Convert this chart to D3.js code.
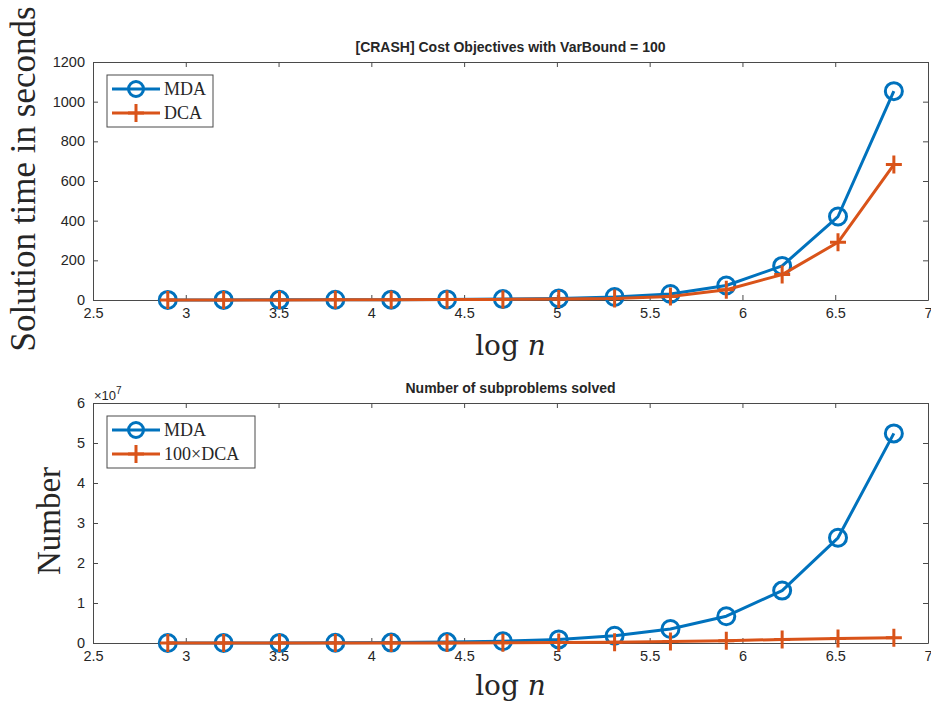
<!DOCTYPE html>
<html>
<head>
<meta charset="utf-8">
<script src="https://cdn.jsdelivr.net/npm/d3@7"></script>
<style>
  body { margin: 0; background: #fff; }
  svg text { fill: #262626; }
</style>
</head>
<body>
<svg id="fig" width="931" height="704"></svg>
<script>
// x = log10(n), n = 800 * 2^k
var logN = [2.903, 3.204, 3.505, 3.806, 4.107, 4.408, 4.709, 5.010, 5.311, 5.612, 5.913, 6.214, 6.515, 6.816];
// solution time (seconds)
var mdaTime = [0.3, 0.5, 0.8, 1.2, 1.8, 2.8, 4.5, 8, 15, 30, 73, 172, 421, 1053];
var dcaTime = [0.2, 0.3, 0.5, 0.8, 1.2, 2, 3, 5, 8, 18, 52, 128, 291, 683];
// number of subproblems solved
var mdaSub = [4e3, 1e4, 2e4, 5e4, 1e5, 2.2e5, 4.5e5, 9e5, 1.8e6, 3.5e6, 6.7e6, 1.31e7, 2.63e7, 5.24e7];
var dcaSub = [1e3, 2e3, 4e3, 8e3, 1.5e4, 3e4, 6e4, 1.1e5, 2e5, 3.5e5, 5.5e5, 9e5, 1.1e6, 1.3e6];

var xTicks = [2.5, 3, 3.5, 4, 4.5, 5, 5.5, 6, 6.5, 7];
var timeTicks = [0, 200, 400, 600, 800, 1000, 1200];
var subTicks = [0, 1e7, 2e7, 3e7, 4e7, 5e7, 6e7];

var blue = "#0072BD", orange = "#D95319";
var svg = d3.select("#fig");
var left = 93, right = 928;

function panel(opt) {
  var x = d3.scaleLinear().domain([2.5, 7]).range([left, right]);
  var y = d3.scaleLinear().domain(opt.ydom).range([opt.bottom, opt.top]);
  var g = svg.append("g");

  // ticks on all four sides, pointing inward
  var xa = d3.axisBottom(x).tickValues(xTicks).tickSizeInner(-5).tickSizeOuter(0)
    .tickPadding(8).tickFormat(d3.format("~g"));
  var xt = d3.axisTop(x).tickValues(xTicks).tickSizeInner(-5).tickSizeOuter(0).tickFormat("");
  var ya = d3.axisLeft(y).tickValues(opt.yticks).tickSizeInner(-5).tickSizeOuter(0)
    .tickPadding(8).tickFormat(opt.yfmt);
  var yr = d3.axisRight(y).tickValues(opt.yticks).tickSizeInner(-5).tickSizeOuter(0).tickFormat("");

  g.append("g").attr("transform", "translate(0," + opt.bottom + ")").call(xa);
  g.append("g").attr("transform", "translate(0," + opt.top + ")").call(xt);
  g.append("g").attr("transform", "translate(" + left + ",0)").call(ya);
  g.append("g").attr("transform", "translate(" + right + ",0)").call(yr);
  g.selectAll(".domain, .tick line").attr("stroke", "#4a4a4a").attr("stroke-width", 1);
  g.selectAll(".tick text").style("font-family", "Liberation Sans, Arial, sans-serif")
    .style("font-size", "14.5px").attr("fill", "#262626");

  var line = d3.line().x(function(d) { return x(d[0]); }).y(function(d) { return y(d[1]); });
  var s1 = logN.map(function(v, i) { return [v, opt.s1[i]]; });
  var s2 = logN.map(function(v, i) { return [v, opt.s2[i]]; });

  g.append("path").datum(s1).attr("d", line).attr("fill", "none")
    .attr("stroke", blue).attr("stroke-width", 3).attr("stroke-linejoin", "round");
  g.selectAll(".circ").data(s1).enter().append("circle")
    .attr("cx", function(d) { return x(d[0]); }).attr("cy", function(d) { return y(d[1]); })
    .attr("r", 8.5).attr("fill", "none").attr("stroke", blue).attr("stroke-width", 3);

  g.append("path").datum(s2).attr("d", line).attr("fill", "none")
    .attr("stroke", orange).attr("stroke-width", 3).attr("stroke-linejoin", "round");
  g.selectAll(".plus").data(s2).enter().append("path")
    .attr("d", function(d) {
      var cx = x(d[0]), cy = y(d[1]);
      return "M" + (cx - 8) + "," + cy + "H" + (cx + 8) + "M" + cx + "," + (cy - 9) + "V" + (cy + 9);
    })
    .attr("stroke", orange).attr("stroke-width", 3);

  // title
  g.append("text").attr("x", (left + right) / 2).attr("y", opt.top - 10)
    .attr("text-anchor", "middle").style("font-family", "Liberation Sans, Arial, sans-serif")
    .style("font-size", "14px").style("font-weight", "bold").attr("fill", "#000").text(opt.title);

  // x label: log n
  var xl = g.append("text").attr("x", (left + right) / 2).attr("y", opt.bottom + opt.xlOff)
    .attr("text-anchor", "middle").style("font-family", "DejaVu Serif, Liberation Serif, serif")
    .style("font-size", "28px").attr("fill", "#262626");
  xl.append("tspan").text("log ");
  xl.append("tspan").style("font-style", "italic").text("n");

  // y label
  g.append("text").attr("transform", "translate(" + opt.ylx + "," + opt.ylc + ") rotate(-90)")
    .attr("text-anchor", "middle").style("font-family", "Liberation Serif, DejaVu Serif, serif")
    .style("font-size", opt.ylsize).attr("fill", "#262626").text(opt.ylabel);

  // legend
  var lg = g.append("g").attr("transform", "translate(107," + (opt.top + 13) + ")");
  lg.append("rect").attr("width", opt.legW).attr("height", 52)
    .attr("fill", "#fff").attr("stroke", "#4a4a4a").attr("stroke-width", 1);
  var items = [{c: blue, t: opt.names[0], m: "o"}, {c: orange, t: opt.names[1], m: "+"}];
  items.forEach(function(it, i) {
    var yy = 14 + i * 24;
    lg.append("line").attr("x1", 5).attr("x2", 53).attr("y1", yy).attr("y2", yy)
      .attr("stroke", it.c).attr("stroke-width", 3);
    if (it.m == "o") {
      lg.append("circle").attr("cx", 29).attr("cy", yy).attr("r", 7.5)
        .attr("fill", "none").attr("stroke", it.c).attr("stroke-width", 3);
    } else {
      lg.append("path").attr("d", "M21," + yy + "H37M29," + (yy - 9) + "V" + (yy + 9))
        .attr("stroke", it.c).attr("stroke-width", 3);
    }
    lg.append("text").attr("x", 57).attr("y", yy + 6)
      .style("font-family", "Liberation Serif, DejaVu Serif, serif").style("font-size", "18px")
      .attr("fill", "#262626").text(it.t);
  });
  return g;
}

panel({
  top: 62, bottom: 300, ydom: [0, 1200], yticks: timeTicks, yfmt: d3.format("d"),
  s1: mdaTime, s2: dcaTime, title: "[CRASH] Cost Objectives with VarBound = 100",
  ylabel: "Solution time in seconds", ylx: 35, ylc: 179, ylsize: "35px", xlOff: 55,
  names: ["MDA", "DCA"], legW: 106
});

var p2 = panel({
  top: 403, bottom: 643, ydom: [0, 6e7], yticks: subTicks, yfmt: function(d) { return d / 1e7; },
  s1: mdaSub, s2: dcaSub, title: "Number of subproblems solved",
  ylabel: "Number", ylx: 60, ylc: 521, ylsize: "33px", xlOff: 52,
  names: ["MDA", "100\u00d7DCA"], legW: 148
});

// exponent label
var ex = p2.append("text").attr("x", 94).attr("y", 400)
  .style("font-family", "Liberation Sans, Arial, sans-serif").style("font-size", "13px").attr("fill", "#262626");
ex.append("tspan").text("\u00d710");
ex.append("tspan").attr("dy", -6).style("font-size", "10px").text("7");
</script>
</body>
</html>
